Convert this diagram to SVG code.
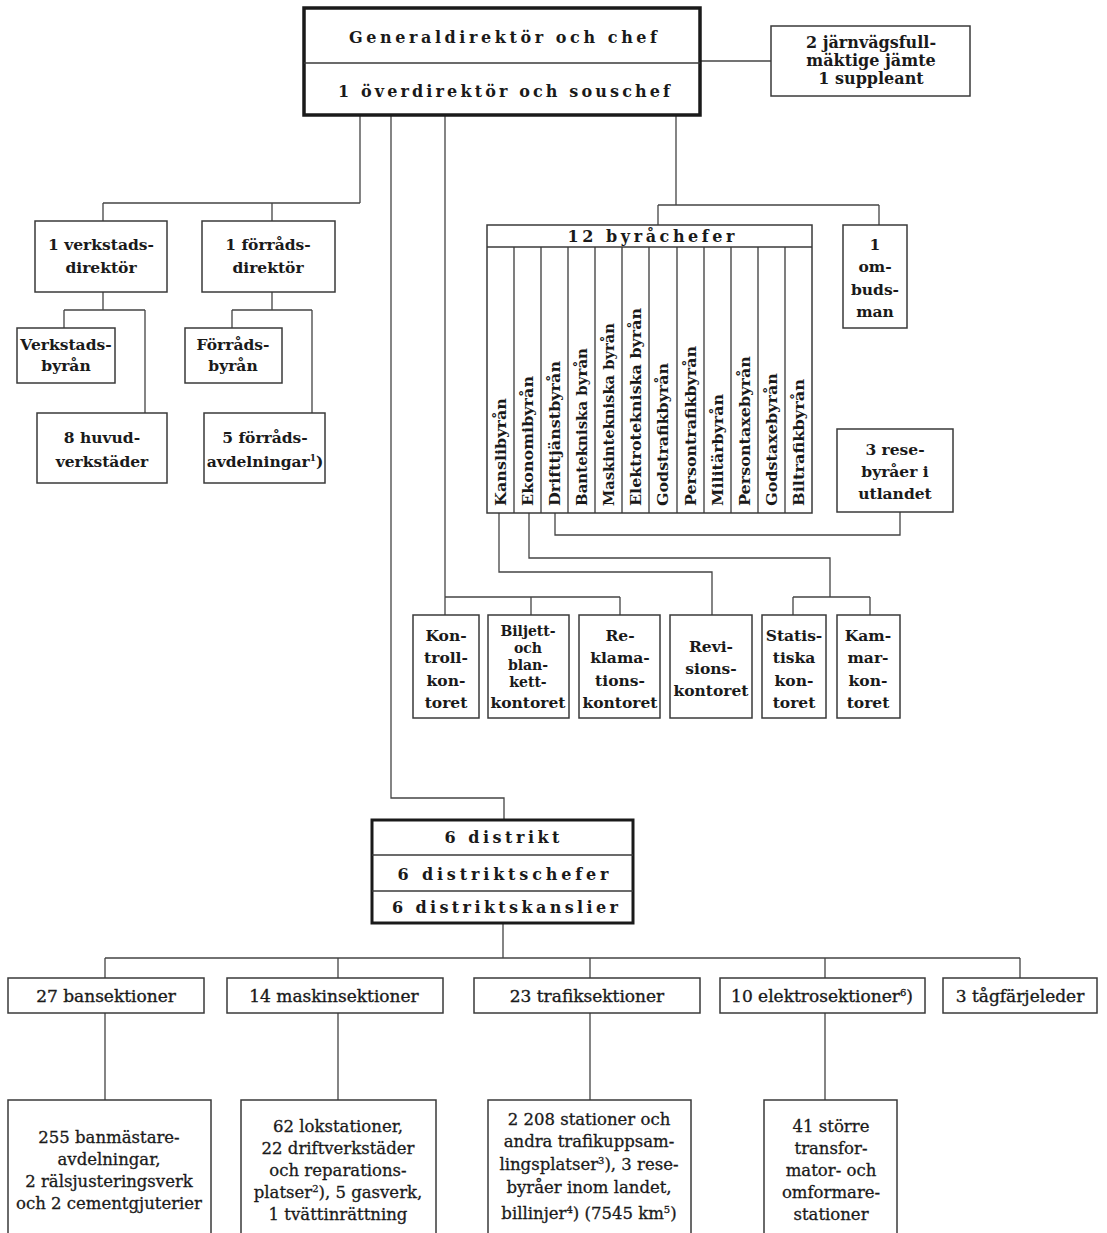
<svg xmlns="http://www.w3.org/2000/svg" width="1107" height="1233" viewBox="0 0 1107 1233">
<style>
.bg{fill:#ffffff}
.box{fill:#ffffff;stroke:#3a3a3a;stroke-width:1.5}
.thick{fill:#ffffff;stroke:#1a1a1a;stroke-width:3.5}
.div{stroke:#3a3a3a;stroke-width:1.3;fill:none}
.con path{fill:none;stroke:#444;stroke-width:1.3}
text{font-family:"DejaVu Serif","Liberation Serif",serif;fill:#1a1a1a;text-anchor:middle}
.b{font-weight:bold;font-size:15.5px}
.bs{font-weight:bold;font-size:14px}
.h{font-weight:bold;font-size:16px}
.r{font-weight:normal;font-size:17px;stroke:#1a1a1a;stroke-width:0.35}
.rb{font-weight:normal;font-size:16.5px;stroke:#1a1a1a;stroke-width:0.3}
.v{font-weight:bold;font-size:15px;text-anchor:start}
</style>
<rect class="bg" x="0" y="0" width="1107" height="1233"/>

<g id="connectors" class="con">
<path d="M700,61 H771"/>
<path d="M360,116 V203 M103,203 H360 M103,203 V221 M272,203 V221"/>
<path d="M103,292 V310 M64,310 H145 M64,310 V328 M145,310 V413"/>
<path d="M272,292 V310 M232,310 H312 M232,310 V328 M312,310 V413"/>
<path d="M391,116 V798 H504 V820"/>
<path d="M445,116 V615 M445,597 H620 M531,597 V615 M620,597 V615"/>
<path d="M676,116 V205 M658,205 H879 M658,205 V225 M879,205 V225"/>
<path d="M555,513 V535 H900 V512"/>
<path d="M529,513 V558 H830 V597 M793,597 H870 M793,597 V615 M870,597 V615"/>
<path d="M499,513 V572 H712 V615"/>
<path d="M503,923 V958 M105,958 H1020 M105,958 V978 M338,958 V978 M590,958 V978 M825,958 V978 M1020,958 V978"/>
<path d="M105,1013 V1100 M338,1013 V1100 M590,1013 V1100 M825,1013 V1100"/>
</g>

<g id="generaldirektor">
<rect class="thick" x="304" y="8" width="396" height="107"/>
<line class="div" x1="304" y1="63" x2="700" y2="63"/>
<text class="h" x="503" y="43" textLength="308" lengthAdjust="spacing">Generaldirektör och chef</text>
<text class="h" x="504" y="97" textLength="332" lengthAdjust="spacing">1 överdirektör och souschef</text>
</g>

<g id="jarnvagsfullmaktige">
<rect class="box" x="771" y="26" width="199" height="70"/>
<text class="b" x="871" y="48" style="font-size:16px">2 järnvägsfull-</text>
<text class="b" x="871" y="66" style="font-size:16px">mäktige jämte</text>
<text class="b" x="871" y="84" style="font-size:16px">1 suppleant</text>
</g>

<g id="verkstadsdirektor">
<rect class="box" x="35" y="221" width="132" height="71"/>
<text class="b" x="101" y="250">1 verkstads-</text>
<text class="b" x="101" y="273">direktör</text>
</g>
<g id="forradsdirektor">
<rect class="box" x="202" y="221" width="133" height="71"/>
<text class="b" x="268" y="250">1 förråds-</text>
<text class="b" x="268" y="273">direktör</text>
</g>
<g id="verkstadsbyran">
<rect class="box" x="17" y="328" width="98" height="55"/>
<text class="b" x="66" y="350">Verkstads-</text>
<text class="b" x="66" y="371">byrån</text>
</g>
<g id="forradsbyran">
<rect class="box" x="185" y="328" width="97" height="55"/>
<text class="b" x="233" y="350">Förråds-</text>
<text class="b" x="233" y="371">byrån</text>
</g>
<g id="huvudverkstader">
<rect class="box" x="37" y="413" width="130" height="70"/>
<text class="b" x="102" y="443">8 huvud-</text>
<text class="b" x="102" y="467">verkstäder</text>
</g>
<g id="forradsavdelningar">
<rect class="box" x="204" y="413" width="121" height="70"/>
<text class="b" x="265" y="443">5 förråds-</text>
<text class="b" x="265" y="467">avdelningar<tspan font-size="9" dy="-6">1</tspan><tspan dy="6">)</tspan></text>
</g>

<g id="byrachefer">
<rect class="box" x="487" y="225" width="325" height="288"/>
<line class="div" x1="487" y1="247" x2="812" y2="247"/>
<text class="h" x="651" y="242" textLength="167" lengthAdjust="spacing">12 byråchefer</text>
<g class="div">
<line x1="514" y1="247" x2="514" y2="513"/><line x1="541" y1="247" x2="541" y2="513"/><line x1="568" y1="247" x2="568" y2="513"/><line x1="595" y1="247" x2="595" y2="513"/><line x1="622" y1="247" x2="622" y2="513"/><line x1="649" y1="247" x2="649" y2="513"/><line x1="677" y1="247" x2="677" y2="513"/><line x1="704" y1="247" x2="704" y2="513"/><line x1="731" y1="247" x2="731" y2="513"/><line x1="758" y1="247" x2="758" y2="513"/><line x1="785" y1="247" x2="785" y2="513"/>
</g>
<text class="v" transform="translate(506,506) rotate(-90)" textLength="108" lengthAdjust="spacingAndGlyphs">Kanslibyrån</text>
<text class="v" transform="translate(533,506) rotate(-90)" textLength="130" lengthAdjust="spacingAndGlyphs">Ekonomibyrån</text>
<text class="v" transform="translate(560,506) rotate(-90)" textLength="145" lengthAdjust="spacingAndGlyphs">Drifttjänstbyrån</text>
<text class="v" transform="translate(587,506) rotate(-90)" textLength="158" lengthAdjust="spacingAndGlyphs">Bantekniska byrån</text>
<text class="v" transform="translate(614,506) rotate(-90)" textLength="183" lengthAdjust="spacingAndGlyphs">Maskintekniska byrån</text>
<text class="v" transform="translate(641,506) rotate(-90)" textLength="198" lengthAdjust="spacingAndGlyphs">Elektrotekniska byrån</text>
<text class="v" transform="translate(668,506) rotate(-90)" textLength="143" lengthAdjust="spacingAndGlyphs">Godstrafikbyrån</text>
<text class="v" transform="translate(696,506) rotate(-90)" textLength="160" lengthAdjust="spacingAndGlyphs">Persontrafikbyrån</text>
<text class="v" transform="translate(723,506) rotate(-90)" textLength="112" lengthAdjust="spacingAndGlyphs">Militärbyrån</text>
<text class="v" transform="translate(750,506) rotate(-90)" textLength="150" lengthAdjust="spacingAndGlyphs">Persontaxebyrån</text>
<text class="v" transform="translate(777,506) rotate(-90)" textLength="133" lengthAdjust="spacingAndGlyphs">Godstaxebyrån</text>
<text class="v" transform="translate(804,506) rotate(-90)" textLength="127" lengthAdjust="spacingAndGlyphs">Biltrafikbyrån</text>
</g>

<g id="ombudsman">
<rect class="box" x="843" y="225" width="64" height="103"/>
<text class="b" x="875" y="250">1</text>
<text class="b" x="875" y="272">om-</text>
<text class="b" x="875" y="295">buds-</text>
<text class="b" x="875" y="317">man</text>
</g>
<g id="resebyraer-utlandet">
<rect class="box" x="837" y="429" width="116" height="83"/>
<text class="b" x="895" y="455">3 rese-</text>
<text class="b" x="895" y="477">byråer i</text>
<text class="b" x="895" y="499">utlandet</text>
</g>

<g id="kontrollkontoret">
<rect class="box" x="413" y="615" width="66" height="103"/>
<text class="b" x="446" y="641">Kon-</text>
<text class="b" x="446" y="663">troll-</text>
<text class="b" x="446" y="686">kon-</text>
<text class="b" x="446" y="708">toret</text>
</g>
<g id="biljettkontoret">
<rect class="box" x="488" y="615" width="81" height="103"/>
<text class="bs" x="528" y="636">Biljett-</text>
<text class="bs" x="528" y="653">och</text>
<text class="bs" x="528" y="670">blan-</text>
<text class="bs" x="528" y="687">kett-</text>
<text class="b" x="528" y="708">kontoret</text>
</g>
<g id="reklamationskontoret">
<rect class="box" x="579" y="615" width="81" height="103"/>
<text class="b" x="620" y="641">Re-</text>
<text class="b" x="620" y="663">klama-</text>
<text class="b" x="620" y="686">tions-</text>
<text class="b" x="620" y="708">kontoret</text>
</g>
<g id="revisionskontoret">
<rect class="box" x="670" y="615" width="82" height="103"/>
<text class="b" x="711" y="652">Revi-</text>
<text class="b" x="711" y="674">sions-</text>
<text class="b" x="711" y="696">kontoret</text>
</g>
<g id="statistiska-kontoret">
<rect class="box" x="762" y="615" width="64" height="103"/>
<text class="b" x="794" y="641">Statis-</text>
<text class="b" x="794" y="663">tiska</text>
<text class="b" x="794" y="686">kon-</text>
<text class="b" x="794" y="708">toret</text>
</g>
<g id="kammarkontoret">
<rect class="box" x="837" y="615" width="63" height="103"/>
<text class="b" x="868" y="641">Kam-</text>
<text class="b" x="868" y="663">mar-</text>
<text class="b" x="868" y="686">kon-</text>
<text class="b" x="868" y="708">toret</text>
</g>

<g id="distrikt">
<rect class="thick" x="372" y="820" width="261" height="103" style="stroke-width:3"/>
<line class="div" x1="372" y1="855" x2="633" y2="855"/>
<line class="div" x1="372" y1="891" x2="633" y2="891"/>
<text class="h" x="502" y="843" textLength="115" lengthAdjust="spacing">6 distrikt</text>
<text class="h" x="503" y="880" textLength="211" lengthAdjust="spacing">6 distriktschefer</text>
<text class="h" x="505" y="913" textLength="226" lengthAdjust="spacing">6 distriktskanslier</text>
</g>

<g id="bansektioner">
<rect class="box" x="8" y="978" width="196" height="35"/>
<text class="r" x="106" y="1002">27 bansektioner</text>
</g>
<g id="maskinsektioner">
<rect class="box" x="227" y="978" width="216" height="35"/>
<text class="r" x="334" y="1002">14 maskinsektioner</text>
</g>
<g id="trafiksektioner">
<rect class="box" x="474" y="978" width="226" height="35"/>
<text class="r" x="587" y="1002">23 trafiksektioner</text>
</g>
<g id="elektrosektioner">
<rect class="box" x="720" y="978" width="205" height="35"/>
<text class="r" x="822" y="1002">10 elektrosektioner<tspan font-size="10" dy="-6">6</tspan><tspan dy="6">)</tspan></text>
</g>
<g id="tagfarjeleder">
<rect class="box" x="943" y="978" width="154" height="35"/>
<text class="r" x="1020" y="1002">3 tågfärjeleder</text>
</g>

<g id="banmastareavdelningar">
<rect class="box" x="8" y="1100" width="203" height="145"/>
<text class="rb" x="109" y="1143">255 banmästare-</text>
<text class="rb" x="109" y="1165">avdelningar,</text>
<text class="rb" x="109" y="1187">2 rälsjusteringsverk</text>
<text class="rb" x="109" y="1209">och 2 cementgjuterier</text>
</g>
<g id="lokstationer">
<rect class="box" x="241" y="1100" width="195" height="145"/>
<text class="rb" x="338" y="1132">62 lokstationer,</text>
<text class="rb" x="338" y="1154">22 driftverkstäder</text>
<text class="rb" x="338" y="1176">och reparations-</text>
<text class="rb" x="338" y="1198">platser<tspan font-size="10" dy="-6">2</tspan><tspan dy="6">), 5 gasverk,</tspan></text>
<text class="rb" x="338" y="1220">1 tvättinrättning</text>
</g>
<g id="stationer">
<rect class="box" x="488" y="1100" width="203" height="145"/>
<text class="rb" x="589" y="1125">2 208 stationer och</text>
<text class="rb" x="589" y="1147">andra trafikuppsam-</text>
<text class="rb" x="589" y="1170">lingsplatser<tspan font-size="10" dy="-6">3</tspan><tspan dy="6">), 3 rese-</tspan></text>
<text class="rb" x="589" y="1193">byråer inom landet,</text>
<text class="rb" x="589" y="1219">billinjer<tspan font-size="10" dy="-6">4</tspan><tspan dy="6">) (7545 km</tspan><tspan font-size="10" dy="-6">5</tspan><tspan dy="6">)</tspan></text>
</g>
<g id="transformatorstationer">
<rect class="box" x="764" y="1100" width="133" height="145"/>
<text class="rb" x="831" y="1132">41 större</text>
<text class="rb" x="831" y="1154">transfor-</text>
<text class="rb" x="831" y="1176">mator- och</text>
<text class="rb" x="831" y="1198">omformare-</text>
<text class="rb" x="831" y="1220">stationer</text>
</g>
</svg>
